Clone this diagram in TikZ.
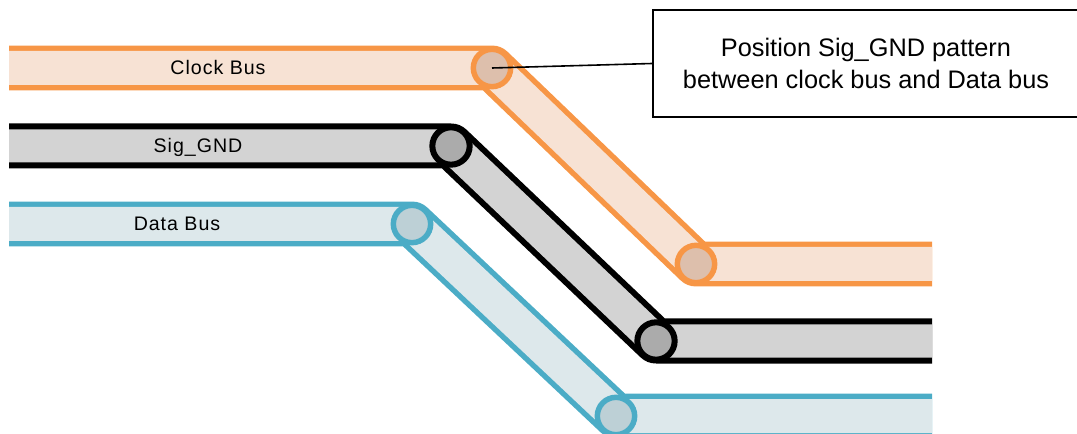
\documentclass[tikz,border=0pt]{standalone}
\usepackage{fontspec}
\setmainfont{Liberation Sans}
\newfontfamily\labelfont[LetterSpace=5]{Liberation Sans}
\usepackage{tikz}
\usetikzlibrary{positioning}
\definecolor{clkline}{HTML}{F79646}
\definecolor{clkfill}{HTML}{F7E2D4}
\definecolor{clkvia}{HTML}{DDBFAC}
\definecolor{gndfill}{HTML}{D3D3D3}
\definecolor{gndvia}{HTML}{ABABAB}
\definecolor{datline}{HTML}{4BACC6}
\definecolor{datfill}{HTML}{DDE8EB}
\definecolor{datvia}{HTML}{BDD0D6}
\tikzset{
	bus/.style = {line width=4.1pt, line join=round, line cap=butt,
		double distance=25.5pt},
	bus_c/.style = {bus, draw=clkline, double=clkfill},% clock bus
	bus_g/.style = {bus, draw=black, double=gndfill, line width=4.5pt,
		double distance=24.75pt},% sig gnd
	bus_d/.style = {bus, draw=datline, double=datfill},% data bus
	via/.style = {circle, inner sep=0pt, minimum size=28pt, line width=4.1pt},
	via_c/.style = {via, draw=clkline, fill=clkvia},% via, clock
	via_g/.style = {via, draw=black, fill=gndvia, line width=4.5pt},% via, gnd
	via_d/.style = {via, draw=datline, fill=datvia},% via, data
	buslabel/.style = {anchor=base, inner sep=0pt,
		font=\labelfont\fontsize{14.7}{17}\selectfont},
	notebox/.style = {draw, line width=1.2pt, align=center, inner sep=0pt,
		minimum width=319.5pt, minimum height=80.25pt,
		font=\fontsize{19}{24}\selectfont}
}
\begin{document}
\begin{tikzpicture}[x=0.75pt, y=-0.75pt]
\useasboundingbox (0,0) rectangle (1077,434);
% clock bus
\coordinate (clk0) at (9,68);
\coordinate (clk1) at (492,68);
\coordinate (clk2) at (696,264);
\coordinate (clk3) at (932,264);
% sig gnd
\coordinate (gnd0) at (9,146);
\coordinate (gnd1) at (451,146);
\coordinate (gnd2) at (656,341);
\coordinate (gnd3) at (932,341);
% data bus
\coordinate (dat0) at (9,224);
\coordinate (dat1) at (412,224);
\coordinate (dat2) at (616,416);
\coordinate (dat3) at (932,416);

\draw[bus_c] (clk0) -- (clk1) -- (clk2) -- (clk3);
\draw[bus_g] (gnd0) -- (gnd1) -- (gnd2) -- (gnd3);
\draw[bus_d] (dat0) -- (dat1) -- (dat2) -- (dat3);

\node[via_c] (clkA) at (clk1) {};
\node[via_c] (clkB) at (clk2) {};
\node[via_g] (gndA) at (gnd1) {};
\node[via_g] (gndB) at (gnd2) {};
\node[via_d] (datA) at (dat1) {};
\node[via_d] (datB) at (dat2) {};

\node[buslabel] (clkText) at (218,75) {Clock Bus};
\node[buslabel] (gndText) at (198,153) {Sig\_GND};
\node[buslabel] (datText) at (177,231) {Data Bus};

\node[notebox] (note) at (866,63.5) {Position Sig\_GND pattern\\between clock bus and Data bus};
\draw[line width=1.2pt] (clkA.center) -- (note.west);
\end{tikzpicture}
\end{document}
